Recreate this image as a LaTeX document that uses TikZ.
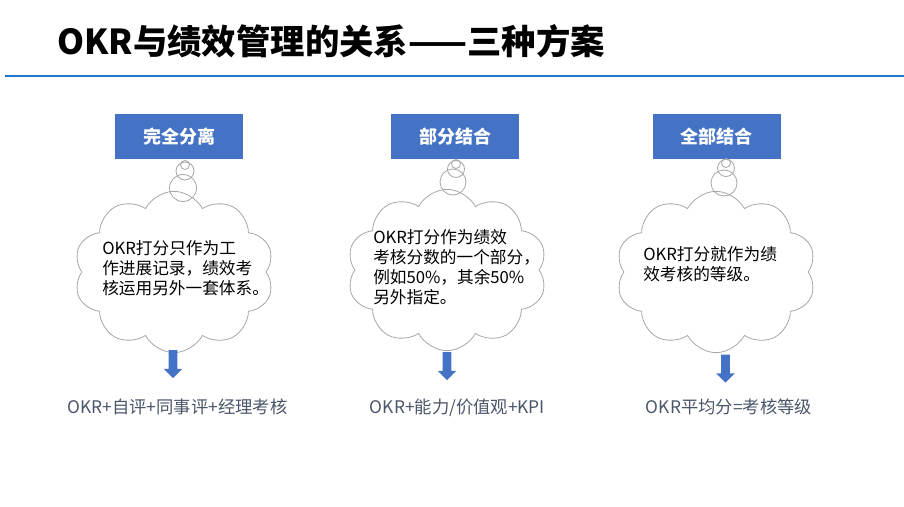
\documentclass[tikz,border=0pt]{standalone}
\usepackage{fontspec}
\setmainfont{Noto Sans CJK SC}
\usepackage{xcolor}
\usetikzlibrary{shapes.symbols,shapes.arrows}

\definecolor{boxblue}{HTML}{4472C4}
\definecolor{ruleblue}{HTML}{1F78C9}
\definecolor{cloudgray}{HTML}{A6A6A6}
\definecolor{notegray}{HTML}{4A5568}

\tikzset{
  headbox/.style={fill=boxblue,text=white,minimum width=96pt,minimum height=33.75pt,inner sep=0pt,font=\fontsize{13.5}{16}\selectfont\bfseries},
  thought/.style={cloud,cloud puffs=10,cloud puff arc=125,cloud ignores aspect,draw=cloudgray,line width=0.6pt,minimum width=150pt,minimum height=121pt,inner sep=0pt},
  bubble/.style={draw=cloudgray,line width=0.6pt},
  thoughttext/.style={anchor=north west,inner sep=0pt,align=left,font=\fontsize{12.5}{15}\selectfont},
  downarrow/.style={single arrow,shape border rotate=270,fill=boxblue,minimum height=21pt,minimum width=13.5pt,inner sep=3pt,single arrow head extend=3.75pt},
  result/.style={text=notegray,inner sep=0pt,font=\fontsize{13}{15}\selectfont}
}

\begin{document}
\begin{tikzpicture}[x=0.75pt,y=0.75pt,yscale=-1,xscale=1]
\useasboundingbox (0,0) rectangle (904,507);

\draw (57,54.5) node [anchor=base west][inner sep=0pt] (title) {\fontsize{25.8}{30}\selectfont\bfseries OKR与绩效管理的关系——三种方案};

\draw [ruleblue,line width=2pt] (5,76) -- (904,76);

\draw (179,136.5) node [headbox] (head1) {完全分离};

\draw (455,136.5) node [headbox] (head2) {部分结合};

\draw (716.5,136.5) node [headbox] (head3) {全部结合};

\draw (174,272) node [thought] (cloud1) {};

\draw (447,270) node [thought] (cloud2) {};

\draw (716,272) node [thought] (cloud3) {};

\draw [bubble] (185,165) circle (4.5);
\draw [bubble] (185,171) circle (9);
\draw [bubble] (183,188) circle (13.5);

\draw [bubble] (456,164) circle (4.5);
\draw [bubble] (456,169) circle (8.5);
\draw [bubble] (453,182) circle (13);

\draw [bubble] (726,163) circle (4.5);
\draw [bubble] (726,168) circle (8.5);
\draw [bubble] (724,183) circle (13);

\draw (102,240) node [thoughttext] (note1) {OKR打分只作为工\\作进展记录，绩效考\\核运用另外一套体系。};

\draw (373,229) node [thoughttext] (note2) {OKR打分作为绩效\\考核分数的一个部分，\\例如50\%，其余50\%\\另外指定。};

\draw (643,246) node [thoughttext] (note3) {OKR打分就作为绩\\效考核的等级。};

\draw (173,362) node [downarrow] (arr1) {};

\draw (447,364) node [downarrow] (arr2) {};

\draw (725.5,366.5) node [downarrow] (arr3) {};

\draw (177.5,407) node [result] (res1) {OKR+自评+同事评+经理考核};

\draw (457.5,407.5) node [result] (res2) {OKR+能力/价值观+KPI};

\draw (729,406.5) node [result] (res3) {OKR平均分=考核等级};
\end{tikzpicture}
\end{document}
